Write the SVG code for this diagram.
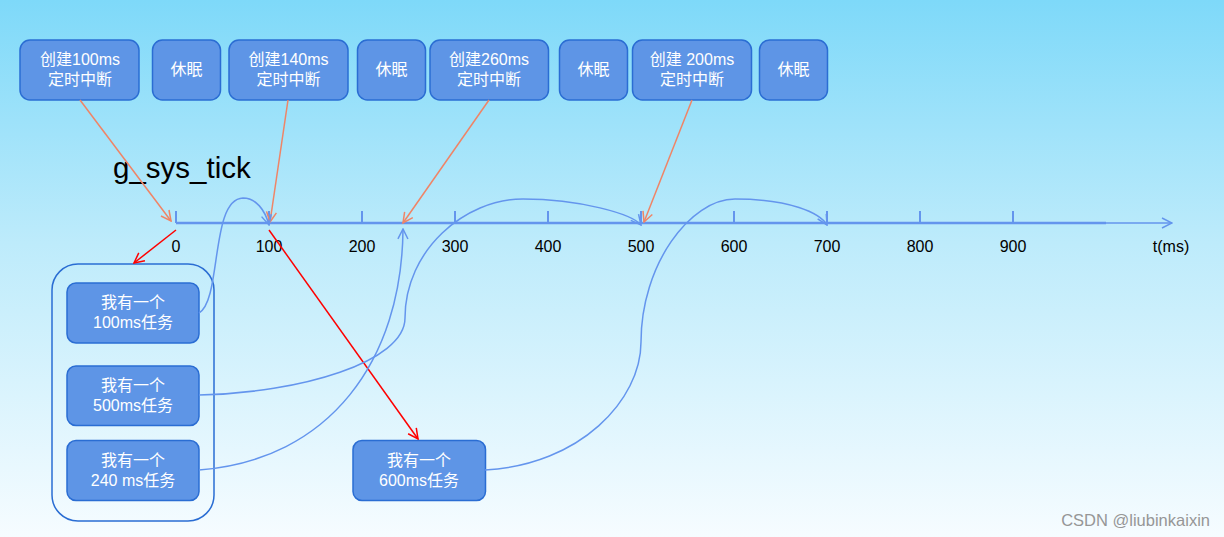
<svg xmlns="http://www.w3.org/2000/svg" width="1224" height="537" viewBox="0 0 1224 537">
<defs>
<linearGradient id="bg" x1="0" y1="0" x2="0" y2="1">
<stop offset="0" stop-color="#7ed9f9"/>
<stop offset="0.45" stop-color="#bdebfb"/>
<stop offset="1" stop-color="#f6fcff"/>
</linearGradient>
<marker id="ao" viewBox="0 0 12 12" refX="11" refY="6" markerWidth="12" markerHeight="12" markerUnits="userSpaceOnUse" orient="auto"><path d="M1,1 L11,6 L1,11" fill="none" stroke="#f08466" stroke-width="1.5"/></marker>
<marker id="ar" viewBox="0 0 12 12" refX="11" refY="6" markerWidth="12" markerHeight="12" markerUnits="userSpaceOnUse" orient="auto"><path d="M1,1 L11,6 L1,11" fill="none" stroke="#ff0000" stroke-width="1.5"/></marker>
<marker id="ab" viewBox="0 0 12 12" refX="11" refY="6" markerWidth="12" markerHeight="12" markerUnits="userSpaceOnUse" orient="auto"><path d="M1,1 L11,6 L1,11" fill="none" stroke="#6495ed" stroke-width="1.5"/></marker>
</defs>
<style>
.box{fill:#5e95e6;stroke:#2a6dd3;stroke-width:1.5}
.bt{fill:#ffffff;font-family:"Liberation Sans","Noto Sans CJK SC",sans-serif;font-size:16px;text-anchor:middle}
.lbl{fill:#000;font-family:"Liberation Sans",Arial,sans-serif;font-size:16px;text-anchor:middle}
.tick{stroke:#6495ed;stroke-width:2}
.or{stroke:#f08466;stroke-width:1.5;fill:none;marker-end:url(#ao)}
.rd{stroke:#ff0000;stroke-width:1.5;fill:none;marker-end:url(#ar)}
.bl{stroke:#6495ed;stroke-width:1.5;fill:none;marker-end:url(#ab)}
</style>
<rect width="1224" height="537" fill="url(#bg)"/>

<g id="axis">
<line x1="176" y1="223" x2="1106" y2="223" stroke="#6495ed" stroke-width="2.5"/>
<line x1="1106" y1="223" x2="1172" y2="223" stroke="#6495ed" stroke-width="1.5" marker-end="url(#ab)"/>
<line class="tick" x1="176" y1="211" x2="176" y2="223"/>
<line class="tick" x1="269" y1="211" x2="269" y2="223"/>
<line class="tick" x1="362" y1="211" x2="362" y2="223"/>
<line class="tick" x1="455" y1="211" x2="455" y2="223"/>
<line class="tick" x1="548" y1="211" x2="548" y2="223"/>
<line class="tick" x1="641" y1="211" x2="641" y2="223"/>
<line class="tick" x1="734" y1="211" x2="734" y2="223"/>
<line class="tick" x1="827" y1="211" x2="827" y2="223"/>
<line class="tick" x1="920" y1="211" x2="920" y2="223"/>
<line class="tick" x1="1013" y1="211" x2="1013" y2="223"/>
<text class="lbl" x="176" y="252">0</text>
<text class="lbl" x="269" y="252">100</text>
<text class="lbl" x="362" y="252">200</text>
<text class="lbl" x="455" y="252">300</text>
<text class="lbl" x="548" y="252">400</text>
<text class="lbl" x="641" y="252">500</text>
<text class="lbl" x="734" y="252">600</text>
<text class="lbl" x="827" y="252">700</text>
<text class="lbl" x="920" y="252">800</text>
<text class="lbl" x="1013" y="252">900</text>
<text class="lbl" x="1171" y="252">t(ms)</text>
</g>

<text x="113" y="178" font-family="Liberation Sans,Arial,sans-serif" font-size="29.5" fill="#000">g_sys_tick</text>

<g id="n1"><rect class="box" x="20" y="40" width="119" height="60" rx="10"/><text class="bt" x="80" y="64.5">创建100ms</text><text class="bt" x="80" y="84.5">定时中断</text></g>
<g id="n2"><rect class="box" x="152.5" y="40" width="68" height="60" rx="10"/><text class="bt" x="186.5" y="75">休眠</text></g>
<g id="n3"><rect class="box" x="229" y="40" width="119" height="60" rx="10"/><text class="bt" x="288.5" y="64.5">创建140ms</text><text class="bt" x="288.5" y="84.5">定时中断</text></g>
<g id="n4"><rect class="box" x="357.5" y="40" width="68" height="60" rx="10"/><text class="bt" x="391.5" y="75">休眠</text></g>
<g id="n5"><rect class="box" x="430" y="40" width="118.5" height="60" rx="10"/><text class="bt" x="489" y="64.5">创建260ms</text><text class="bt" x="489" y="84.5">定时中断</text></g>
<g id="n6"><rect class="box" x="559.5" y="40" width="68" height="60" rx="10"/><text class="bt" x="593.5" y="75">休眠</text></g>
<g id="n7"><rect class="box" x="632.5" y="40" width="119" height="60" rx="10"/><text class="bt" x="692" y="64.5">创建 200ms</text><text class="bt" x="692" y="84.5">定时中断</text></g>
<g id="n8"><rect class="box" x="759.5" y="40" width="68" height="60" rx="10"/><text class="bt" x="793.5" y="75">休眠</text></g>

<g id="container"><rect x="52" y="264" width="162" height="257" rx="26" fill="none" stroke="#2a6dd3" stroke-width="1.5"/></g>
<g id="t100"><rect class="box" x="67" y="283" width="132" height="60" rx="9"/><text class="bt" x="133" y="307.5">我有一个</text><text class="bt" x="133" y="327.5">100ms任务</text></g>
<g id="t500"><rect class="box" x="67" y="366" width="132" height="59.5" rx="9"/><text class="bt" x="133" y="390.5">我有一个</text><text class="bt" x="133" y="410.5">500ms任务</text></g>
<g id="t240"><rect class="box" x="67" y="440.5" width="132" height="60" rx="9"/><text class="bt" x="133" y="465.5">我有一个</text><text class="bt" x="133" y="485.5">240 ms任务</text></g>
<g id="t600"><rect class="box" x="353" y="440.5" width="132.5" height="60" rx="9"/><text class="bt" x="419" y="465.5">我有一个</text><text class="bt" x="419" y="485.5">600ms任务</text></g>

<g id="connectors">
<line class="or" x1="80" y1="100" x2="171" y2="221"/>
<line class="or" x1="288" y1="100" x2="270" y2="222"/>
<line class="or" x1="489" y1="100" x2="403" y2="223"/>
<line class="or" x1="692" y1="100" x2="644" y2="222"/>
<line class="rd" x1="176" y1="230" x2="134" y2="263"/>
<line class="rd" x1="269" y1="230" x2="418" y2="439"/>
<path class="bl" d="M199,313 C222,300 210,199 243,198 C256,198 265,210 269,225"/>
<path class="bl" d="M199,395 C300,393 405,362 405,318 C405,250 465,199 523,199 C580,199 632,214 641,225"/>
<path class="bl" d="M199,470 C330,460 402,360 403,229"/>
<path class="bl" d="M485,470 C580,465 641,400 641,342 C641,265 690,199 735,199 C790,199 820,213 827,225"/>
</g>

<text x="1210" y="526" text-anchor="end" font-family="Liberation Sans,Arial,sans-serif" font-size="16.5" fill="#969696">CSDN @liubinkaixin</text>
</svg>
